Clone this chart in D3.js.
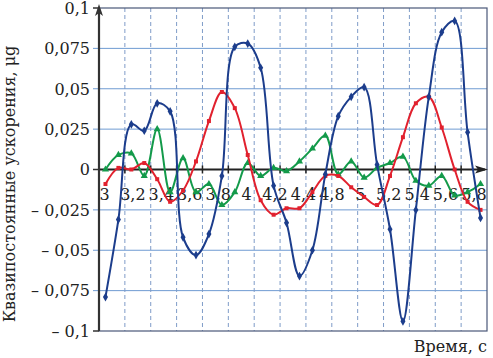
<!DOCTYPE html>
<html><head><meta charset="utf-8">
<script src="https://cdn.jsdelivr.net/npm/d3@7"></script>
<style>
html,body{margin:0;padding:0;background:#fff;}
</style></head>
<body><svg id="c" width="493" height="358"></svg>
<script>
const times = [3.05,3.15,3.25,3.35,3.45,3.55,3.65,3.75,3.85,3.95,4.05,4.15,4.25,4.35,4.45,4.55,4.65,4.75,4.85,4.95,5.05,5.15,5.25,5.35,5.45,5.55,5.65,5.75,5.85,5.95];
const blue  = [-0.079,-0.031,0.028,0.024,0.041,0.036,-0.042,-0.053,-0.040,-0.004,0.076,0.078,0.063,-0.010,-0.033,-0.066,-0.050,-0.003,0.033,0.045,0.051,0.003,-0.037,-0.094,-0.025,0.045,0.085,0.092,0.023,-0.030];
const red   = [-0.009,0.001,0.000,0.004,-0.006,-0.020,-0.013,0.005,0.030,0.048,0.038,0.009,-0.019,-0.028,-0.024,-0.024,-0.014,-0.004,-0.004,-0.011,-0.017,-0.022,-0.004,0.020,0.041,0.045,0.026,0.000,-0.020,-0.025];
const green = [0.000,0.009,0.010,-0.004,0.025,-0.014,0.007,-0.014,-0.009,-0.022,-0.014,0.004,-0.004,0.001,-0.001,0.005,0.013,0.021,-0.003,0.005,-0.005,0.001,0.004,0.008,-0.007,-0.010,-0.004,-0.016,-0.014,-0.009];
const xGrid = [3.2,3.4,3.6,3.8,4.0,4.2,4.4,4.6,4.8,5.0,5.2,5.4,5.6,5.8];
const xLabels = ["3","3,2","3,4","3,6","3,8","4","4,2","4,4","4,8","5","5,2","5,4","5,6","5,8"];
const yTicks = [0.1,0.075,0.05,0.025,0,-0.025,-0.05,-0.075,-0.1];
const yLabels = ["0,1","0,075","0,05","0,025","0","– 0,025","– 0,05","– 0,075","– 0,1"];

const FONT = "DejaVu Serif";
const svg = d3.select("#c");
const L=99, R=487, T=8, B=331;
const x = d3.scaleLinear().domain([3,6]).range([L,R]);
const y = d3.scaleLinear().domain([-0.1,0.1]).range([B,T]);
const xl = d3.scalePoint().domain(xLabels).range([104.5,474]);

svg.append("g").selectAll("line").data(yTicks.filter(v=>v!==0 && Math.abs(v)<0.1)).join("line")
  .attr("x1",L-6).attr("x2",R).attr("y1",d=>y(d)).attr("y2",d=>y(d))
  .attr("stroke","#6f9bd2").attr("stroke-width",1);
svg.append("g").selectAll("line").data(xGrid).join("line")
  .attr("x1",d=>x(d)).attr("x2",d=>x(d)).attr("y1",T).attr("y2",B)
  .attr("stroke","#7f9cc8").attr("stroke-width",1).attr("stroke-dasharray","4,3");
svg.append("rect").attr("x",L).attr("y",T).attr("width",R-L).attr("height",B-T)
  .attr("fill","none").attr("stroke","#4a5878").attr("stroke-width",1.2);
svg.append("g").selectAll("line").data([0.1,-0.1,0]).join("line")
  .attr("x1",L-6).attr("x2",L).attr("y1",d=>y(d)).attr("y2",d=>y(d))
  .attr("stroke","#333").attr("stroke-width",1.5);
svg.append("line").attr("x1",L).attr("x2",R-2).attr("y1",y(0)).attr("y2",y(0))
  .attr("stroke","#222").attr("stroke-width",2.2);
svg.append("path").attr("d",`M${R+1},${y(0)} L${R-12},${y(0)-4} L${R-9},${y(0)} L${R-12},${y(0)+4} Z`).attr("fill","#222");
svg.append("g").selectAll("line").data(xGrid).join("line")
  .attr("x1",d=>x(d)).attr("x2",d=>x(d)).attr("y1",y(0)-4).attr("y2",y(0)+4)
  .attr("stroke","#222").attr("stroke-width",1.5);
svg.append("line").attr("x1",L).attr("x2",L).attr("y1",B).attr("y2",T+2)
  .attr("stroke","#333").attr("stroke-width",2.2);
svg.append("path").attr("d",`M${L},${T-4} L${L-4},${T+8} L${L},${T+5} L${L+4},${T+8} Z`).attr("fill","#333");

svg.append("g").selectAll("text").data(yTicks).join("text")
  .attr("x",90).attr("y",d=>y(d)).attr("dy","0.36em").attr("text-anchor","end")
  .attr("font-family",FONT).attr("font-size",16).attr("fill","#222").text((d,i)=>yLabels[i]);
svg.append("g").selectAll("text").data(xLabels).join("text")
  .attr("x",d=>xl(d)).attr("y",200).attr("text-anchor","middle")
  .attr("font-family",FONT).attr("font-size",16).attr("fill","#222").text(d=>d);
svg.append("text").attr("transform","translate(15,184) rotate(-90)").attr("text-anchor","middle")
  .attr("font-family",FONT).attr("font-size",16).attr("fill","#222").text("Квазипостоянные ускорения, μg");
svg.append("text").attr("x",487).attr("y",352).attr("text-anchor","end")
  .attr("font-family",FONT).attr("font-size",16).attr("fill","#222").text("Время, с");

const series = [
  {vals: green, color:"#139a4a", shape: d3.symbolTriangle, size: 22},
  {vals: red, color:"#e1212e", shape: d3.symbolSquare, size: 16},
  {vals: blue, color:"#1c3d8c", shape: d3.symbolDiamond, size: 22}
];
const line = d3.line().x(d=>x(d[0])).y(d=>y(d[1])).curve(d3.curveCatmullRom.alpha(0.5));
series.forEach(s=>{
  const pts = times.map((t,i)=>[t,s.vals[i]]);
  svg.append("path").datum(pts).attr("d",line).attr("fill","none")
    .attr("stroke",s.color).attr("stroke-width",2);
  svg.append("g").selectAll("path").data(pts).join("path")
    .attr("transform",d=>`translate(${x(d[0])},${y(d[1])})`)
    .attr("d",d3.symbol().type(s.shape).size(s.size)).attr("fill",s.color);
});
</script></body></html>
